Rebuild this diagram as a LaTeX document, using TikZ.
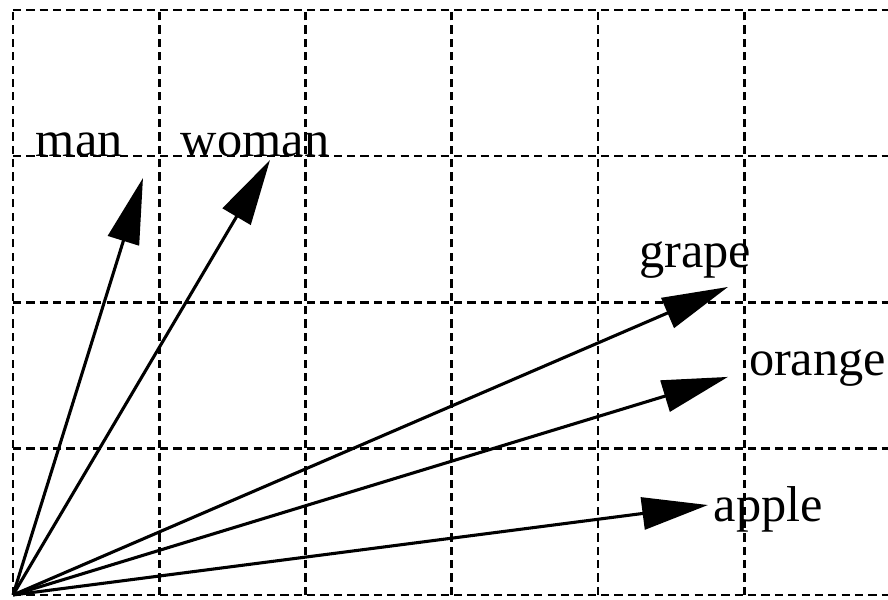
\documentclass[tikz,border=0pt]{standalone}
\usepackage{fontspec}
\setmainfont{Liberation Serif}
\usetikzlibrary{arrows.meta}
\begin{document}
\begin{tikzpicture}[x=1.0065cm,y=1cm,
  gridline/.style={line width=0.5pt, dash pattern=on 1.6pt off 1pt},
  vec/.style={line width=0.6pt, -{Triangle[length=0.45cm,width=0.22cm]}},
  lbl/.style={anchor=base west, inner sep=0pt, font=\fontsize{9.8}{12}\selectfont}]
\useasboundingbox (-0.0883,-0.034) rectangle (5.944,4.068);
\draw[gridline] (0,0) grid (6,4);
\coordinate (O) at (0,0);
\coordinate (tman) at (0.883,2.851);
\coordinate (twoman) at (1.746,2.974);
\coordinate (tgrape) at (4.857,2.106);
\coordinate (torange) at (4.857,1.491);
\coordinate (tapple) at (4.721,0.615);
\draw[vec] (O) -- (tman);
\draw[vec] (O) -- (twoman);
\draw[vec] (O) -- (tgrape);
\draw[vec] (O) -- (torange);
\draw[vec] (O) -- (tapple);
\node[lbl] (man) at (0.149,3.0) {man};
\node[lbl] (woman) at (1.134,3.0) {woman};
\node[lbl] (grape) at (4.246,2.236) {grape};
\node[lbl] (orange) at (4.993,1.504) {orange};
\node[lbl] (apple) at (4.755,0.499) {apple};
\end{tikzpicture}
\end{document}
